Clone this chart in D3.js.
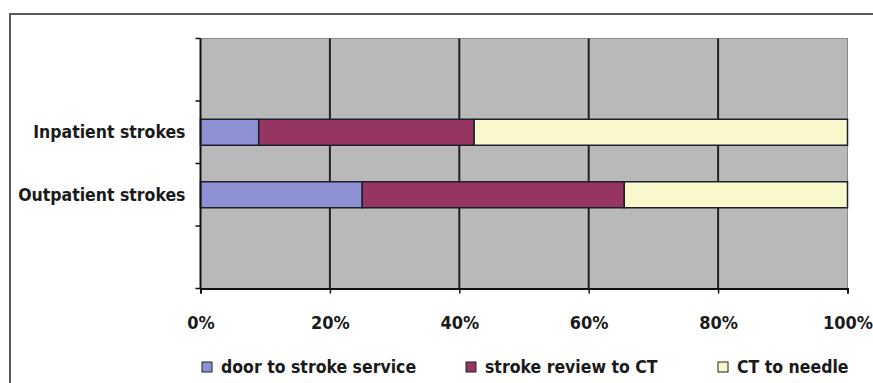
<!DOCTYPE html>
<html>
<head>
<meta charset="utf-8">
<script src="https://cdn.jsdelivr.net/npm/d3@7"></script>
<style>
  html, body { margin: 0; padding: 0; background: #fff; }
  svg { display: block; }
  text { font-family: "DejaVu Sans Condensed", "Liberation Sans", sans-serif; font-weight: bold; fill: #1a1a1a; }
</style>
</head>
<body>
<script>
// Category slots on the vertical axis (empty slots keep the Excel-style spacing)
const categories = ["", "Inpatient strokes", "Outpatient strokes", " "];
const seriesNames = ["door to stroke service", "stroke review to CT", "CT to needle"];
const seriesColors = ["#8e90d4", "#963462", "#f8f8cc"];
// Share of total time (%) for each stage
const inpatientValues = [9.0, 33.3, 57.7];
const outpatientValues = [25.0, 40.5, 34.5];
const xTickValues = [0, 20, 40, 60, 80, 100];

const W = 873, H = 383;
const plot = { left: 200.5, right: 847.5, top: 38.5, bottom: 288.5 };

const svg = d3.select("body").append("svg").attr("width", W).attr("height", H);

// chart frame
svg.append("path")
  .attr("d", `M10,${H + 5} V14 H${W + 5}`)
  .attr("fill", "none").attr("stroke", "#5a5a5a").attr("stroke-width", 2);

const x = d3.scaleLinear().domain([0, 100]).range([plot.left, plot.right]);
const y = d3.scaleBand().domain(categories).range([plot.top, plot.bottom]).paddingInner(0.58).paddingOuter(0.29);

// plot area
svg.append("rect")
  .attr("x", plot.left).attr("y", plot.top)
  .attr("width", plot.right - plot.left).attr("height", plot.bottom - plot.top)
  .attr("fill", "#b9b9b9").attr("stroke", "#8a8a8a").attr("stroke-width", 1);

// vertical gridlines
svg.append("g").selectAll("line")
  .data(xTickValues.slice(1, -1))
  .join("line")
  .attr("x1", d => x(d)).attr("x2", d => x(d))
  .attr("y1", plot.top).attr("y2", plot.bottom)
  .attr("stroke", "#222").attr("stroke-width", 2);

// stacked bars
const rows = [
  { cat: categories[1], values: inpatientValues },
  { cat: categories[2], values: outpatientValues }
];
const stackData = rows.map(r => {
  const o = { cat: r.cat };
  seriesNames.forEach((s, i) => { o[s] = r.values[i]; });
  return o;
});
const stacked = d3.stack().keys(seriesNames)(stackData);

const bh = 26;
svg.append("g").selectAll("g")
  .data(stacked)
  .join("g")
  .attr("fill", (d, i) => seriesColors[i])
  .selectAll("rect")
  .data(d => d)
  .join("rect")
  .attr("x", d => x(d[0]))
  .attr("width", d => x(d[1]) - x(d[0]))
  .attr("y", d => y(d.data.cat) + y.bandwidth() / 2 - bh / 2)
  .attr("height", bh)
  .attr("stroke", "#1e1e2a").attr("stroke-width", 1.5);

// y axis
const yAxisG = svg.append("g").attr("transform", `translate(${plot.left},0)`);
yAxisG.append("line").attr("x1", 0).attr("x2", 0).attr("y1", plot.top).attr("y2", plot.bottom)
  .attr("stroke", "#111").attr("stroke-width", 2);
const yTicks = d3.range(categories.length + 1).map(i => plot.top + i * (plot.bottom - plot.top) / categories.length);
yAxisG.selectAll("line.tick").data(yTicks).join("line").attr("class", "tick")
  .attr("x1", -5).attr("x2", 0).attr("y1", d => d).attr("y2", d => d)
  .attr("stroke", "#111").attr("stroke-width", 1.5);
yAxisG.selectAll("text").data(categories.filter(c => c.trim()))
  .join("text")
  .attr("x", -15)
  .attr("y", d => y(d) + y.bandwidth() / 2)
  .attr("dy", "0.35em")
  .attr("text-anchor", "end")
  .attr("font-size", 17.5)
  .text(d => d);

// x axis
const xAxis = d3.axisBottom(x).tickValues(xTickValues).tickSize(5).tickFormat(d => d + "%");
const xAxisG = svg.append("g").attr("transform", `translate(0,${plot.bottom})`).call(xAxis);
xAxisG.select(".domain").attr("stroke", "#111").attr("stroke-width", 2);
xAxisG.selectAll(".tick line").attr("stroke", "#111").attr("stroke-width", 1.5);
xAxisG.selectAll(".tick text")
  .attr("y", 40).attr("dy", "0")
  .attr("font-size", 18)
  .attr("font-family", null);

// legend
const legendX = [202, 466, 718];
const legend = svg.append("g").selectAll("g").data(seriesNames).join("g")
  .attr("transform", (d, i) => `translate(${legendX[i]},367)`);
legend.append("rect").attr("x", 0).attr("y", -5).attr("width", 10).attr("height", 10)
  .attr("fill", (d, i) => seriesColors[i]).attr("stroke", "#222").attr("stroke-width", 1);
legend.append("text").attr("x", 19).attr("dy", "0.35em").attr("font-size", 17.5).text(d => d);
</script>
</body>
</html>
